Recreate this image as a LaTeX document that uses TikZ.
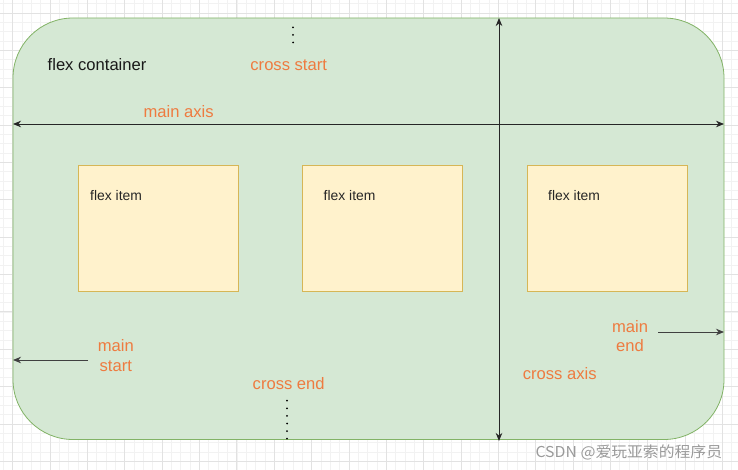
\documentclass[tikz,border=0pt]{standalone}
\usepackage{fontspec}
\setmainfont{Liberation Sans}
\newfontfamily\cjk{Noto Sans CJK SC}
\usetikzlibrary{arrows.meta}
\definecolor{gfill}{HTML}{D5E8D4}
\definecolor{gline}{HTML}{82B366}
\definecolor{yfill}{HTML}{FFF2CC}
\definecolor{yline}{HTML}{D6B656}
\definecolor{lbl}{HTML}{EE7B40}
\definecolor{gridminor}{HTML}{F2F2F2}
\definecolor{gridmajor}{HTML}{E2E2E2}
\definecolor{wm}{HTML}{9A9A9A}
\tikzset{
  container/.style={draw=gline, fill=gfill, line width=0.8pt, rounded corners=60pt, inner sep=0pt},
  itembox/.style={draw=yline, fill=yfill, line width=0.8pt, minimum width=160pt, minimum height=126pt, inner sep=0pt},
  itemtext/.style={anchor=west, inner sep=0pt, font=\fontsize{13.9pt}{16pt}\selectfont, text=black!85},
  biglbl/.style={inner sep=0pt, font=\fontsize{16.6pt}{19.5pt}\selectfont, text=lbl, align=center},
  axisline/.style={draw=black!85, line width=0.9pt, {Stealth[length=8pt,width=6.5pt,inset=2.5pt]}-{Stealth[length=8pt,width=6.5pt,inset=2.5pt]}},
  onearrow/.style={draw=black!75, line width=0.9pt, -{Stealth[length=8pt,width=6.5pt,inset=2.5pt]}},
  dotline/.style={draw=black, line width=2pt, line cap=round, dash pattern=on 0pt off 7.6pt}
}
\begin{document}
\begin{tikzpicture}[x=1pt,y=-1pt]
\useasboundingbox (0,0) rectangle (738,470);
\clip (0,0) rectangle (738,470);
\fill[white] (0,0) rectangle (738,470);
% grid
\foreach \k in {-1,...,78} {
  \pgfmathsetmacro{\gx}{12.7+9.3375*\k}
  \draw[gridminor, line width=0.6pt] (\gx,0) -- (\gx,470);
}
\foreach \k in {-1,...,50} {
  \pgfmathsetmacro{\gy}{13+9.3375*\k}
  \draw[gridminor, line width=0.6pt] (0,\gy) -- (738,\gy);
}
\foreach \k in {0,...,19} {
  \pgfmathsetmacro{\gx}{12.7+37.35*\k}
  \draw[gridmajor, line width=0.7pt] (\gx,0) -- (\gx,470);
}
\foreach \k in {0,...,12} {
  \pgfmathsetmacro{\gy}{13+37.35*\k}
  \draw[gridmajor, line width=0.7pt] (0,\gy) -- (738,\gy);
}
% container
\node[container, minimum width=711pt, minimum height=421.5pt] (cont) at (368.5,228.75) {};
% items
\node[itembox] (item1) at (158.3,228.7) {};
\node[itembox] (item2) at (382.7,228.7) {};
\node[itembox] (item3) at (607,228.7) {};
\node[itemtext] (t1) at (90,196) {flex item};
\node[itemtext] (t2) at (323.5,196) {flex item};
\node[itemtext] (t3) at (548,196) {flex item};
% labels
\node[inner sep=0pt, anchor=west, font=\fontsize{16.6pt}{19.5pt}\selectfont, text=black!90] (fc) at (47.5,65) {flex container};
\node[biglbl] (cs) at (288.7,65) {cross start};
\node[biglbl] (ma) at (178.6,112) {main axis};
\node[biglbl] (ms) at (115.8,355.5) {main\\start};
\node[biglbl] (ce) at (288.7,383.3) {cross end};
\node[biglbl] (me) at (630,336.3) {main\\end};
\node[biglbl] (ca) at (559.7,373.3) {cross axis};
% coordinates
\coordinate (mL) at (13,124);
\coordinate (mR) at (724,124);
\coordinate (cT) at (499,18);
\coordinate (cB) at (499,441);
\coordinate (msL) at (13,360);
\coordinate (msR) at (88,360);
\coordinate (meL) at (658,332);
\coordinate (meR) at (724,332);
\coordinate (csA) at (293,27.3);
\coordinate (csB) at (293,50);
\coordinate (ceA) at (287,400.7);
\coordinate (ceB) at (287,439.5);
% axes
\draw[axisline] (mL) -- (mR);
\draw[axisline] (cT) -- (cB);
\draw[onearrow] (msR) -- (msL);
\draw[onearrow] (meL) -- (meR);
\draw[dotline] (csA) -- (csB);
\draw[dotline] (ceA) -- (ceB);
% watermark
\node[anchor=east, inner sep=0pt, text=wm] (wmk) at (722.3,452) {\scalebox{1.055}[1]{\cjk\fontsize{15pt}{18pt}\selectfont CSDN @爱玩亚索的程序员}};
\end{tikzpicture}
\end{document}
